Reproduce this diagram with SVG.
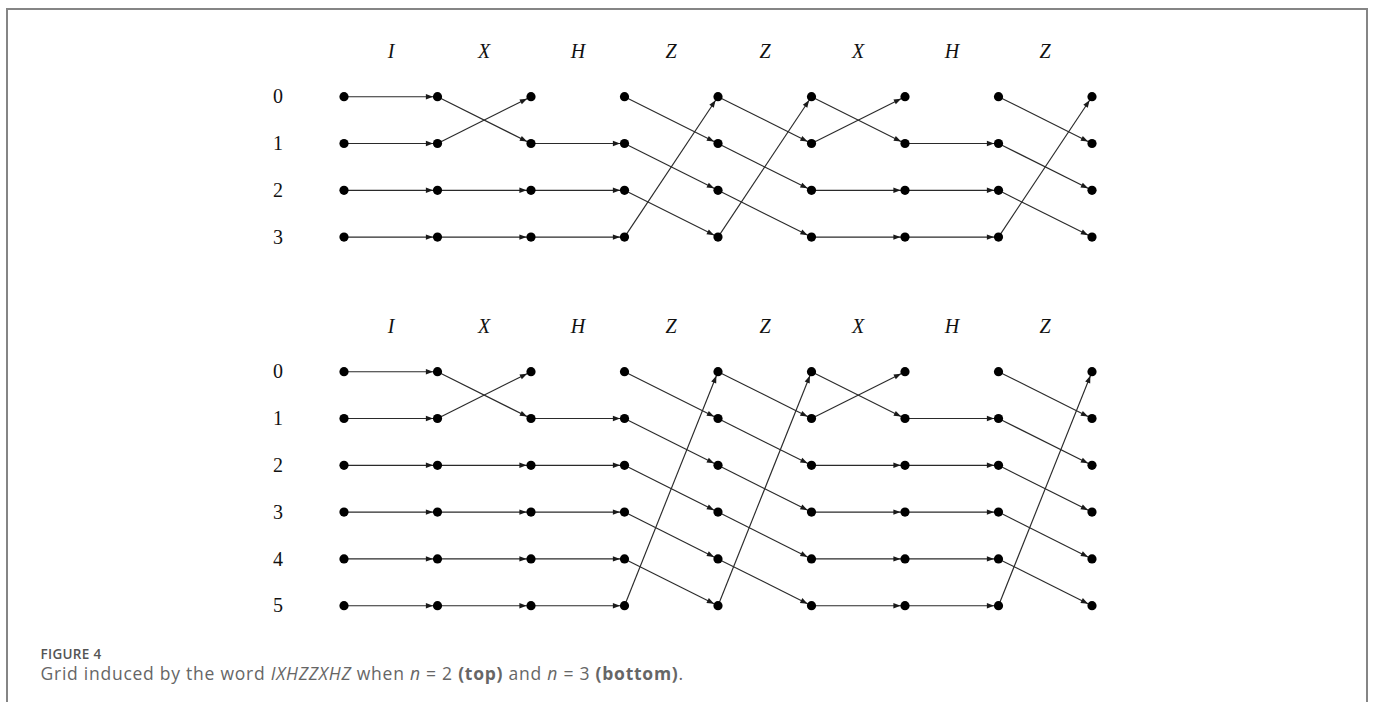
<svg xmlns="http://www.w3.org/2000/svg" width="1373" height="702" viewBox="0 0 1373 702">
<defs>
<marker id="ah" markerUnits="userSpaceOnUse" markerWidth="14" markerHeight="8" refX="11.6" refY="2.7" orient="auto" overflow="visible">
<path d="M0,0 L7.2,2.7 L0,5.4 z" fill="#1a1a1a"/>
</marker>
<style>
.e{stroke:#2a2a2a;stroke-width:1.15;fill:none;marker-end:url(#ah)}
.d{fill:#000}
.lab{font-family:"Liberation Serif",serif;font-size:20px;fill:#111;text-anchor:middle}
.it{font-style:italic}
.cap1{font-family:"Open Sans","Noto Sans",sans-serif;font-size:13.5px;font-weight:600;fill:#555;letter-spacing:0.3px}
.cap2{font-family:"Open Sans","Noto Sans",sans-serif;font-size:17.5px;fill:#666;letter-spacing:0.75px}
</style>
</defs>
<rect width="1373" height="702" fill="#fff"/>
<path d="M7,702 V9 H1367 V702" fill="none" stroke="#858585" stroke-width="2"/>

<g id="labels">
<text class="lab it" x="391" y="57.5">I</text>
<text class="lab it" x="484" y="57.5">X</text>
<text class="lab it" x="578" y="57.5">H</text>
<text class="lab it" x="671" y="57.5">Z</text>
<text class="lab it" x="765" y="57.5">Z</text>
<text class="lab it" x="858" y="57.5">X</text>
<text class="lab it" x="952" y="57.5">H</text>
<text class="lab it" x="1045" y="57.5">Z</text>
<text class="lab" x="278" y="103.3">0</text>
<text class="lab" x="278" y="150.1">1</text>
<text class="lab" x="278" y="196.9">2</text>
<text class="lab" x="278" y="243.7">3</text>

<text class="lab it" x="391" y="332.7">I</text>
<text class="lab it" x="484" y="332.7">X</text>
<text class="lab it" x="578" y="332.7">H</text>
<text class="lab it" x="671" y="332.7">Z</text>
<text class="lab it" x="765" y="332.7">Z</text>
<text class="lab it" x="858" y="332.7">X</text>
<text class="lab it" x="952" y="332.7">H</text>
<text class="lab it" x="1045" y="332.7">Z</text>
<text class="lab" x="278" y="378.3">0</text>
<text class="lab" x="278" y="425.1">1</text>
<text class="lab" x="278" y="471.9">2</text>
<text class="lab" x="278" y="518.7">3</text>
<text class="lab" x="278" y="565.5">4</text>
<text class="lab" x="278" y="612.3">5</text>
</g>

<g id="connectors">
<!-- top grid -->
<line class="e" x1="344" y1="96.7" x2="437.5" y2="96.7"/>
<line class="e" x1="344" y1="143.5" x2="437.5" y2="143.5"/>
<line class="e" x1="344" y1="190.3" x2="437.5" y2="190.3"/>
<line class="e" x1="344" y1="237.1" x2="437.5" y2="237.1"/>

<line class="e" x1="437.5" y1="96.7" x2="531" y2="143.5"/>
<line class="e" x1="437.5" y1="143.5" x2="531" y2="96.7"/>
<line class="e" x1="437.5" y1="190.3" x2="531" y2="190.3"/>
<line class="e" x1="437.5" y1="237.1" x2="531" y2="237.1"/>

<line class="e" x1="531" y1="143.5" x2="624.5" y2="143.5"/>
<line class="e" x1="531" y1="190.3" x2="624.5" y2="190.3"/>
<line class="e" x1="531" y1="237.1" x2="624.5" y2="237.1"/>

<line class="e" x1="624.5" y1="96.7" x2="718" y2="143.5"/>
<line class="e" x1="624.5" y1="143.5" x2="718" y2="190.3"/>
<line class="e" x1="624.5" y1="190.3" x2="718" y2="237.1"/>
<line class="e" x1="624.5" y1="237.1" x2="718" y2="96.7"/>

<line class="e" x1="718" y1="96.7" x2="811.5" y2="143.5"/>
<line class="e" x1="718" y1="143.5" x2="811.5" y2="190.3"/>
<line class="e" x1="718" y1="190.3" x2="811.5" y2="237.1"/>
<line class="e" x1="718" y1="237.1" x2="811.5" y2="96.7"/>

<line class="e" x1="811.5" y1="96.7" x2="905" y2="143.5"/>
<line class="e" x1="811.5" y1="143.5" x2="905" y2="96.7"/>
<line class="e" x1="811.5" y1="190.3" x2="905" y2="190.3"/>
<line class="e" x1="811.5" y1="237.1" x2="905" y2="237.1"/>

<line class="e" x1="905" y1="143.5" x2="998.5" y2="143.5"/>
<line class="e" x1="905" y1="190.3" x2="998.5" y2="190.3"/>
<line class="e" x1="905" y1="237.1" x2="998.5" y2="237.1"/>

<line class="e" x1="998.5" y1="96.7" x2="1092" y2="143.5"/>
<line class="e" x1="998.5" y1="143.5" x2="1092" y2="190.3"/>
<line class="e" x1="998.5" y1="190.3" x2="1092" y2="237.1"/>
<line class="e" x1="998.5" y1="237.1" x2="1092" y2="96.7"/>

<!-- bottom grid -->
<line class="e" x1="344" y1="371.7" x2="437.5" y2="371.7"/>
<line class="e" x1="344" y1="418.5" x2="437.5" y2="418.5"/>
<line class="e" x1="344" y1="465.3" x2="437.5" y2="465.3"/>
<line class="e" x1="344" y1="512.1" x2="437.5" y2="512.1"/>
<line class="e" x1="344" y1="558.9" x2="437.5" y2="558.9"/>
<line class="e" x1="344" y1="605.7" x2="437.5" y2="605.7"/>

<line class="e" x1="437.5" y1="371.7" x2="531" y2="418.5"/>
<line class="e" x1="437.5" y1="418.5" x2="531" y2="371.7"/>
<line class="e" x1="437.5" y1="465.3" x2="531" y2="465.3"/>
<line class="e" x1="437.5" y1="512.1" x2="531" y2="512.1"/>
<line class="e" x1="437.5" y1="558.9" x2="531" y2="558.9"/>
<line class="e" x1="437.5" y1="605.7" x2="531" y2="605.7"/>

<line class="e" x1="531" y1="418.5" x2="624.5" y2="418.5"/>
<line class="e" x1="531" y1="465.3" x2="624.5" y2="465.3"/>
<line class="e" x1="531" y1="512.1" x2="624.5" y2="512.1"/>
<line class="e" x1="531" y1="558.9" x2="624.5" y2="558.9"/>
<line class="e" x1="531" y1="605.7" x2="624.5" y2="605.7"/>

<line class="e" x1="624.5" y1="371.7" x2="718" y2="418.5"/>
<line class="e" x1="624.5" y1="418.5" x2="718" y2="465.3"/>
<line class="e" x1="624.5" y1="465.3" x2="718" y2="512.1"/>
<line class="e" x1="624.5" y1="512.1" x2="718" y2="558.9"/>
<line class="e" x1="624.5" y1="558.9" x2="718" y2="605.7"/>
<line class="e" x1="624.5" y1="605.7" x2="718" y2="371.7"/>

<line class="e" x1="718" y1="371.7" x2="811.5" y2="418.5"/>
<line class="e" x1="718" y1="418.5" x2="811.5" y2="465.3"/>
<line class="e" x1="718" y1="465.3" x2="811.5" y2="512.1"/>
<line class="e" x1="718" y1="512.1" x2="811.5" y2="558.9"/>
<line class="e" x1="718" y1="558.9" x2="811.5" y2="605.7"/>
<line class="e" x1="718" y1="605.7" x2="811.5" y2="371.7"/>

<line class="e" x1="811.5" y1="371.7" x2="905" y2="418.5"/>
<line class="e" x1="811.5" y1="418.5" x2="905" y2="371.7"/>
<line class="e" x1="811.5" y1="465.3" x2="905" y2="465.3"/>
<line class="e" x1="811.5" y1="512.1" x2="905" y2="512.1"/>
<line class="e" x1="811.5" y1="558.9" x2="905" y2="558.9"/>
<line class="e" x1="811.5" y1="605.7" x2="905" y2="605.7"/>

<line class="e" x1="905" y1="418.5" x2="998.5" y2="418.5"/>
<line class="e" x1="905" y1="465.3" x2="998.5" y2="465.3"/>
<line class="e" x1="905" y1="512.1" x2="998.5" y2="512.1"/>
<line class="e" x1="905" y1="558.9" x2="998.5" y2="558.9"/>
<line class="e" x1="905" y1="605.7" x2="998.5" y2="605.7"/>

<line class="e" x1="998.5" y1="371.7" x2="1092" y2="418.5"/>
<line class="e" x1="998.5" y1="418.5" x2="1092" y2="465.3"/>
<line class="e" x1="998.5" y1="465.3" x2="1092" y2="512.1"/>
<line class="e" x1="998.5" y1="512.1" x2="1092" y2="558.9"/>
<line class="e" x1="998.5" y1="558.9" x2="1092" y2="605.7"/>
<line class="e" x1="998.5" y1="605.7" x2="1092" y2="371.7"/>
</g>

<g id="nodes-top">
<g id="t-c0"><circle class="d" cx="344" cy="96.7" r="4.6"/><circle class="d" cx="344" cy="143.5" r="4.6"/><circle class="d" cx="344" cy="190.3" r="4.6"/><circle class="d" cx="344" cy="237.1" r="4.6"/></g>
<g id="t-c1"><circle class="d" cx="437.5" cy="96.7" r="4.6"/><circle class="d" cx="437.5" cy="143.5" r="4.6"/><circle class="d" cx="437.5" cy="190.3" r="4.6"/><circle class="d" cx="437.5" cy="237.1" r="4.6"/></g>
<g id="t-c2"><circle class="d" cx="531" cy="96.7" r="4.6"/><circle class="d" cx="531" cy="143.5" r="4.6"/><circle class="d" cx="531" cy="190.3" r="4.6"/><circle class="d" cx="531" cy="237.1" r="4.6"/></g>
<g id="t-c3"><circle class="d" cx="624.5" cy="96.7" r="4.6"/><circle class="d" cx="624.5" cy="143.5" r="4.6"/><circle class="d" cx="624.5" cy="190.3" r="4.6"/><circle class="d" cx="624.5" cy="237.1" r="4.6"/></g>
<g id="t-c4"><circle class="d" cx="718" cy="96.7" r="4.6"/><circle class="d" cx="718" cy="143.5" r="4.6"/><circle class="d" cx="718" cy="190.3" r="4.6"/><circle class="d" cx="718" cy="237.1" r="4.6"/></g>
<g id="t-c5"><circle class="d" cx="811.5" cy="96.7" r="4.6"/><circle class="d" cx="811.5" cy="143.5" r="4.6"/><circle class="d" cx="811.5" cy="190.3" r="4.6"/><circle class="d" cx="811.5" cy="237.1" r="4.6"/></g>
<g id="t-c6"><circle class="d" cx="905" cy="96.7" r="4.6"/><circle class="d" cx="905" cy="143.5" r="4.6"/><circle class="d" cx="905" cy="190.3" r="4.6"/><circle class="d" cx="905" cy="237.1" r="4.6"/></g>
<g id="t-c7"><circle class="d" cx="998.5" cy="96.7" r="4.6"/><circle class="d" cx="998.5" cy="143.5" r="4.6"/><circle class="d" cx="998.5" cy="190.3" r="4.6"/><circle class="d" cx="998.5" cy="237.1" r="4.6"/></g>
<g id="t-c8"><circle class="d" cx="1092" cy="96.7" r="4.6"/><circle class="d" cx="1092" cy="143.5" r="4.6"/><circle class="d" cx="1092" cy="190.3" r="4.6"/><circle class="d" cx="1092" cy="237.1" r="4.6"/></g>
</g>

<g id="nodes-bottom">
<g id="b-c0"><circle class="d" cx="344" cy="371.7" r="4.6"/><circle class="d" cx="344" cy="418.5" r="4.6"/><circle class="d" cx="344" cy="465.3" r="4.6"/><circle class="d" cx="344" cy="512.1" r="4.6"/><circle class="d" cx="344" cy="558.9" r="4.6"/><circle class="d" cx="344" cy="605.7" r="4.6"/></g>
<g id="b-c1"><circle class="d" cx="437.5" cy="371.7" r="4.6"/><circle class="d" cx="437.5" cy="418.5" r="4.6"/><circle class="d" cx="437.5" cy="465.3" r="4.6"/><circle class="d" cx="437.5" cy="512.1" r="4.6"/><circle class="d" cx="437.5" cy="558.9" r="4.6"/><circle class="d" cx="437.5" cy="605.7" r="4.6"/></g>
<g id="b-c2"><circle class="d" cx="531" cy="371.7" r="4.6"/><circle class="d" cx="531" cy="418.5" r="4.6"/><circle class="d" cx="531" cy="465.3" r="4.6"/><circle class="d" cx="531" cy="512.1" r="4.6"/><circle class="d" cx="531" cy="558.9" r="4.6"/><circle class="d" cx="531" cy="605.7" r="4.6"/></g>
<g id="b-c3"><circle class="d" cx="624.5" cy="371.7" r="4.6"/><circle class="d" cx="624.5" cy="418.5" r="4.6"/><circle class="d" cx="624.5" cy="465.3" r="4.6"/><circle class="d" cx="624.5" cy="512.1" r="4.6"/><circle class="d" cx="624.5" cy="558.9" r="4.6"/><circle class="d" cx="624.5" cy="605.7" r="4.6"/></g>
<g id="b-c4"><circle class="d" cx="718" cy="371.7" r="4.6"/><circle class="d" cx="718" cy="418.5" r="4.6"/><circle class="d" cx="718" cy="465.3" r="4.6"/><circle class="d" cx="718" cy="512.1" r="4.6"/><circle class="d" cx="718" cy="558.9" r="4.6"/><circle class="d" cx="718" cy="605.7" r="4.6"/></g>
<g id="b-c5"><circle class="d" cx="811.5" cy="371.7" r="4.6"/><circle class="d" cx="811.5" cy="418.5" r="4.6"/><circle class="d" cx="811.5" cy="465.3" r="4.6"/><circle class="d" cx="811.5" cy="512.1" r="4.6"/><circle class="d" cx="811.5" cy="558.9" r="4.6"/><circle class="d" cx="811.5" cy="605.7" r="4.6"/></g>
<g id="b-c6"><circle class="d" cx="905" cy="371.7" r="4.6"/><circle class="d" cx="905" cy="418.5" r="4.6"/><circle class="d" cx="905" cy="465.3" r="4.6"/><circle class="d" cx="905" cy="512.1" r="4.6"/><circle class="d" cx="905" cy="558.9" r="4.6"/><circle class="d" cx="905" cy="605.7" r="4.6"/></g>
<g id="b-c7"><circle class="d" cx="998.5" cy="371.7" r="4.6"/><circle class="d" cx="998.5" cy="418.5" r="4.6"/><circle class="d" cx="998.5" cy="465.3" r="4.6"/><circle class="d" cx="998.5" cy="512.1" r="4.6"/><circle class="d" cx="998.5" cy="558.9" r="4.6"/><circle class="d" cx="998.5" cy="605.7" r="4.6"/></g>
<g id="b-c8"><circle class="d" cx="1092" cy="371.7" r="4.6"/><circle class="d" cx="1092" cy="418.5" r="4.6"/><circle class="d" cx="1092" cy="465.3" r="4.6"/><circle class="d" cx="1092" cy="512.1" r="4.6"/><circle class="d" cx="1092" cy="558.9" r="4.6"/><circle class="d" cx="1092" cy="605.7" r="4.6"/></g>
</g>

<g id="caption">
<text class="cap1" x="40.5" y="659">FIGURE 4</text>
<text class="cap2" x="40.5" y="680">Grid induced by the word <tspan font-style="italic">IXHZZXHZ</tspan> when <tspan font-style="italic">n</tspan> = 2 <tspan font-weight="700">(top)</tspan> and <tspan font-style="italic">n</tspan> = 3 <tspan font-weight="700">(bottom)</tspan>.</text>
</g>
</svg>
